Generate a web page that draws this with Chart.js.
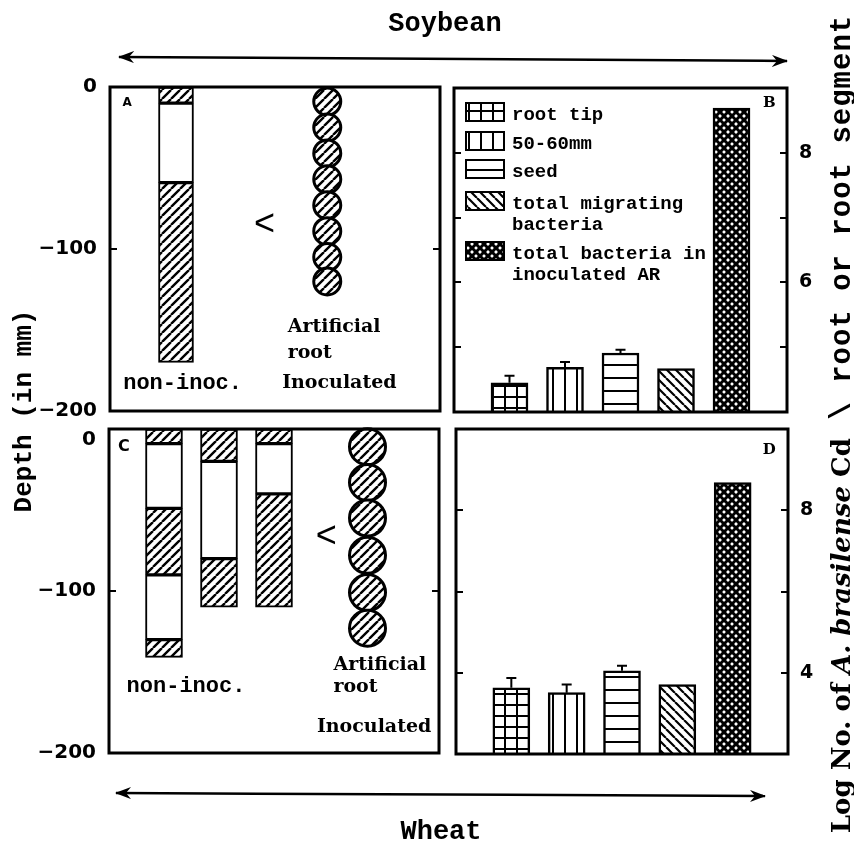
<!DOCTYPE html>
<html>
<head>
<meta charset="utf-8">
<script src="https://cdn.jsdelivr.net/npm/chart.js@4.4.1/dist/chart.umd.min.js"></script>
<style>
  html, body { margin: 0; padding: 0; background: #fff; }
  #page { position: relative; width: 854px; height: 843px; overflow: hidden; }
  #page canvas, #page svg { position: absolute; left: 0; top: 0; }
  .lbl { position: absolute; white-space: nowrap; color: #000; font-weight: bold; line-height: 1;
         transform: translate(-50%, -50%); }
  .mono { font-family: "Liberation Mono", monospace; }
  .rot { transform: translate(-50%, -50%) rotate(-90deg); }
</style>
</head>
<body>
<div id="page">
  <canvas id="panelA" width="854" height="843"></canvas>
  <canvas id="panelB" width="854" height="843"></canvas>
  <canvas id="panelC" width="854" height="843"></canvas>
  <canvas id="panelD" width="854" height="843"></canvas>
  <svg width="854" height="843">
    <defs>
      <marker id="head" markerWidth="16" markerHeight="12" refX="15" refY="6" orient="auto-start-reverse" markerUnits="userSpaceOnUse">
        <path d="M0,0 L16,6 L0,12 L5,6 z" fill="#000"/>
      </marker>
    </defs>
    <line x1="119" y1="57" x2="787" y2="61" stroke="#000" stroke-width="2.5" marker-start="url(#head)" marker-end="url(#head)"/>
    <line x1="116" y1="793" x2="765" y2="796" stroke="#000" stroke-width="2.5" marker-start="url(#head)" marker-end="url(#head)"/>
  </svg>
  <div class="lbl mono" style="left:445px; top:24px; font-size:27px;">Soybean</div>
  <div class="lbl mono" style="left:441px; top:832px; font-size:27px;">Wheat</div>
  <div class="lbl mono rot" style="left:24px; top:411px; font-size:26px;">Depth (in mm)</div>
  <div class="lbl rot" style="left:842px; top:424px; font-size:26px;">
    <span style="font-family:'DejaVu Serif', serif;">Log No. of <i>A. brasilense</i> Cd</span><span class="mono" style="font-size:29px; letter-spacing:1px;">  \ root or root segment</span>
  </div>
</div>
<script>
// ---- data ----
const barCategories = [['root tip'], ['50-60mm'], ['seed'], ['total migrating', 'bacteria'], ['total bacteria in', 'inoculated AR']];
const soyLogCounts = [4.45, 4.69, 4.91, 4.67, 8.69];
const soyErrors = [0.11, 0.08, 0.05, 0, 0];
const wheatLogCounts = [3.63, 3.51, 4.05, 3.71, 8.68];
const wheatErrors = [0.24, 0.20, 0.12, 0, 0];
const soyTickLabels = [6, 8];
const wheatTickLabels = [4, 8];
const depthTickLabels = [0, -100, -200];

// root segment boundaries in mm; segments alternate colonized (hatched) / free, starting colonized
const soyRoots = [[0, -10, -59, -170]];
const wheatRoots = [[0, -9, -49, -90, -130, -141], [0, -20, -80, -110], [0, -9, -40, -110]];
// beads of the inoculated artificial root
const soyBeadDepths = [-9, -25, -41, -57, -73, -89, -105, -120];
const wheatBeadDepths = [-11, -33, -55, -78, -101, -123];

// ---- layout ----
const W = 854, H = 843;
const boxA = { left: 110, top: 87, right: 440, bottom: 411 };
const boxB = { left: 454, top: 88, right: 787, bottom: 412 };
const boxC = { left: 109, top: 429, right: 439, bottom: 753 };
const boxD = { left: 456, top: 429, right: 788, bottom: 754 };
const soyRootX = [1.2], soyBeadX = 3.95;
const wheatRootX = [1, 2, 3], wheatBeadX = 4.7;

Chart.defaults.color = '#000';
Chart.defaults.font.family = '"DejaVu Sans", sans-serif';

// ---- hatch patterns ----
function makePattern(w, h, draw) {
  const c = document.createElement('canvas');
  c.width = w; c.height = h;
  const g = c.getContext('2d');
  g.fillStyle = '#fff';
  g.fillRect(0, 0, w, h);
  g.strokeStyle = '#000';
  draw(g, w, h);
  return g.createPattern(c, 'repeat');
}
function diag(g, s, lw, back) {
  g.lineWidth = lw;
  g.beginPath();
  for (let k = -1; k <= 1; k++) {
    if (back) { g.moveTo(k * s, 0); g.lineTo(k * s + s, s); }
    else { g.moveTo(k * s, s); g.lineTo(k * s + s, 0); }
  }
  g.stroke();
}
const hatchFwd = makePattern(9, 9, (g, s) => diag(g, s, 2.4, false));
const hatchBack = makePattern(9, 9, (g, s) => diag(g, s, 2.2, true));
const gridFill = makePattern(12, 11, (g, w, h) => { g.lineWidth = 2; g.strokeRect(1, 1, w, h); });
const vertFill = makePattern(12, 12, (g, w, h) => { g.lineWidth = 2; g.beginPath(); g.moveTo(1, 0); g.lineTo(1, h); g.stroke(); });
const horizFill = makePattern(12, 13, (g, w, h) => { g.lineWidth = 2; g.beginPath(); g.moveTo(0, 1); g.lineTo(w, 1); g.stroke(); });
const crossFill = makePattern(8, 8, (g, s) => { diag(g, s, 3, false); diag(g, s, 3, true); });
const barFills = [gridFill, vertFill, horizFill, hatchBack, crossFill];

// ---- plugins ----
Chart.register({
  id: 'frame',
  afterDraw(chart) {
    const { ctx, chartArea: a } = chart;
    const ys = chart.scales.y;
    ctx.save();
    ctx.strokeStyle = '#000';
    ctx.lineWidth = 3;
    ctx.strokeRect(a.left, a.top, a.right - a.left, a.bottom - a.top);
    ctx.lineWidth = 2;
    ys.ticks.forEach(t => {
      if (t.value <= ys.min || t.value >= ys.max) return;
      const py = Math.round(ys.getPixelForValue(t.value));
      ctx.beginPath();
      ctx.moveTo(a.left, py); ctx.lineTo(a.left + 7, py);
      ctx.moveTo(a.right, py); ctx.lineTo(a.right - 7, py);
      ctx.stroke();
    });
    ctx.restore();
  }
});

Chart.register({
  id: 'notes',
  afterDraw(chart, args, opts) {
    if (!opts.items) return;
    const { ctx, scales: { x, y } } = chart;
    ctx.save();
    ctx.fillStyle = '#000';
    ctx.textBaseline = 'middle';
    opts.items.forEach(n => {
      ctx.font = n.font;
      ctx.textAlign = n.align || 'center';
      ctx.fillText(n.text, x.getPixelForValue(n.x), y.getPixelForValue(n.y));
    });
    ctx.restore();
  }
});

Chart.register({
  id: 'errorBars',
  afterDatasetsDraw(chart, args, opts) {
    if (!opts.errors) return;
    const { ctx } = chart;
    const ys = chart.scales.y;
    const meta = chart.getDatasetMeta(0);
    const values = chart.data.datasets[0].data;
    ctx.save();
    ctx.strokeStyle = '#000';
    ctx.lineWidth = 2;
    meta.data.forEach((bar, i) => {
      const e = opts.errors[i];
      if (!e) return;
      const top = ys.getPixelForValue(values[i].y + e);
      ctx.beginPath();
      ctx.moveTo(bar.x, bar.y); ctx.lineTo(bar.x, top);
      ctx.moveTo(bar.x - 5, top); ctx.lineTo(bar.x + 5, top);
      ctx.stroke();
    });
    ctx.restore();
  }
});

Chart.register({
  id: 'patternLegend',
  afterDraw(chart, args, opts) {
    if (!opts.items) return;
    const { ctx, chartArea: a } = chart;
    ctx.save();
    ctx.textBaseline = 'middle';
    ctx.textAlign = 'left';
    ctx.font = 'bold 19px "Liberation Mono", monospace';
    opts.items.forEach((it, i) => {
      const bx = a.left + 12, by = a.top + opts.offsets[i];
      ctx.fillStyle = it.fill;
      ctx.fillRect(bx, by, 38, 18);
      ctx.strokeStyle = '#000';
      ctx.lineWidth = 2;
      ctx.strokeRect(bx, by, 38, 18);
      ctx.fillStyle = '#000';
      it.lines.forEach((ln, k) => ctx.fillText(ln, bx + 46, by + 12 + k * 21));
    });
    ctx.restore();
  }
});

// ---- builders ----
function rootSegments(roots, xs) {
  const pts = [], fills = [];
  roots.forEach((b, r) => {
    for (let i = 0; i < b.length - 1; i++) {
      pts.push({ x: xs[r], y: [b[i + 1], b[i]] });
      fills.push(i % 2 === 0 ? hatchFwd : '#fff');
    }
  });
  return { pts, fills };
}

const AXIS_L = 100, AXIS_R = 40;

function depthLabel(v, dropZero) {
  if (!depthTickLabels.includes(v)) return '';
  if (v === 0) return dropZero ? ['', '0'] : '0';
  return '\u2212' + Math.abs(v);
}

function depthChart(id, box, roots, xs, beads, beadX, beadR, barW, dropZero, notes) {
  const seg = rootSegments(roots, xs);
  return new Chart(document.getElementById(id), {
    type: 'bar',
    data: {
      datasets: [
        { data: seg.pts, backgroundColor: seg.fills, borderColor: '#000', borderWidth: 2,
          borderSkipped: false, barThickness: barW },
        { type: 'scatter', data: beads.map(d => ({ x: beadX, y: d })), pointRadius: beadR,
          backgroundColor: hatchFwd, borderColor: '#000', borderWidth: 3, clip: false }
      ]
    },
    options: {
      responsive: false, animation: false,
      layout: { padding: { left: box.left - AXIS_L, top: box.top, right: W - box.right, bottom: H - box.bottom } },
      scales: {
        x: { type: 'linear', min: 0, max: 6, display: false, offset: false },
        y: {
          min: -200, max: 0,
          afterFit: s => { s.width = AXIS_L; },
          grid: { display: false, drawTicks: false }, border: { display: false },
          ticks: {
            stepSize: 100, padding: 13, font: { size: 20, weight: 'bold', lineHeight: 1.1 },
            callback: v => depthLabel(v, dropZero)
          }
        }
      },
      plugins: { legend: { display: false }, tooltip: { enabled: false }, notes: { items: notes } }
    }
  });
}

function countChart(id, box, values, errors, min, max, step, tickLabels, notes, legendItems) {
  return new Chart(document.getElementById(id), {
    type: 'bar',
    data: {
      datasets: [{
        data: values.map((v, i) => ({ x: i + 1, y: v })),
        backgroundColor: barFills, borderColor: '#000', borderWidth: 2.5,
        borderSkipped: false, barThickness: 37
      }]
    },
    options: {
      responsive: false, animation: false,
      layout: { padding: { left: box.left, top: box.top, right: W - box.right - AXIS_R, bottom: H - box.bottom } },
      scales: {
        x: { type: 'linear', min: 0, max: 6, display: false, offset: false },
        y: {
          position: 'right', min, max,
          afterFit: s => { s.width = AXIS_R; },
          grid: { display: false, drawTicks: false }, border: { display: false },
          ticks: {
            stepSize: step, padding: 12, font: { size: 19, weight: 'bold' },
            callback: v => tickLabels.includes(v) ? String(v) : ''
          }
        }
      },
      plugins: {
        legend: { display: false }, tooltip: { enabled: false },
        notes: { items: notes },
        errorBars: { errors },
        patternLegend: legendItems ? { items: legendItems, offsets: [15, 44, 72, 104, 154] } : {}
      }
    }
  });
}

const monoBold = size => 'bold ' + size + 'px "Liberation Mono", monospace';
const serifBold = size => 'bold ' + size + 'px "DejaVu Serif", serif';
const arrowFont = '36px "Liberation Sans", sans-serif';

depthChart('panelA', boxA, soyRoots, soyRootX, soyBeadDepths, soyBeadX, 13.5, 35, false, [
  { text: 'A', x: 0.31, y: -10, font: 'bold 12px "DejaVu Sans"' },
  { text: '<', x: 2.81, y: -85, font: arrowFont },
  { text: 'Artificial', x: 3.23, y: -148, font: serifBold(19), align: 'left' },
  { text: 'root', x: 3.23, y: -164, font: serifBold(19), align: 'left' },
  { text: 'non-inoc.', x: 1.32, y: -183, font: monoBold(22) },
  { text: 'Inoculated', x: 4.17, y: -183, font: serifBold(19) }
]);

depthChart('panelC', boxC, wheatRoots, wheatRootX, wheatBeadDepths, wheatBeadX, 18, 37, true, [
  { text: 'C', x: 0.27, y: -11, font: 'bold 16px "DejaVu Sans"' },
  { text: '<', x: 3.95, y: -67, font: arrowFont },
  { text: 'Artificial', x: 4.08, y: -146, font: serifBold(19), align: 'left' },
  { text: 'root', x: 4.08, y: -159, font: serifBold(19), align: 'left' },
  { text: 'non-inoc.', x: 1.4, y: -159, font: monoBold(22) },
  { text: 'Inoculated', x: 4.82, y: -184, font: serifBold(19) }
]);

countChart('panelB', boxB, soyLogCounts, soyErrors, 4, 9, 1, soyTickLabels,
  [{ text: 'B', x: 5.68, y: 8.77, font: serifBold(15) }],
  barCategories.map((lines, i) => ({ lines, fill: barFills[i] })));

countChart('panelD', boxD, wheatLogCounts, wheatErrors, 2, 10, 2, wheatTickLabels,
  [{ text: 'D', x: 5.66, y: 9.48, font: serifBold(15) }], null);
</script>
</body>
</html>
